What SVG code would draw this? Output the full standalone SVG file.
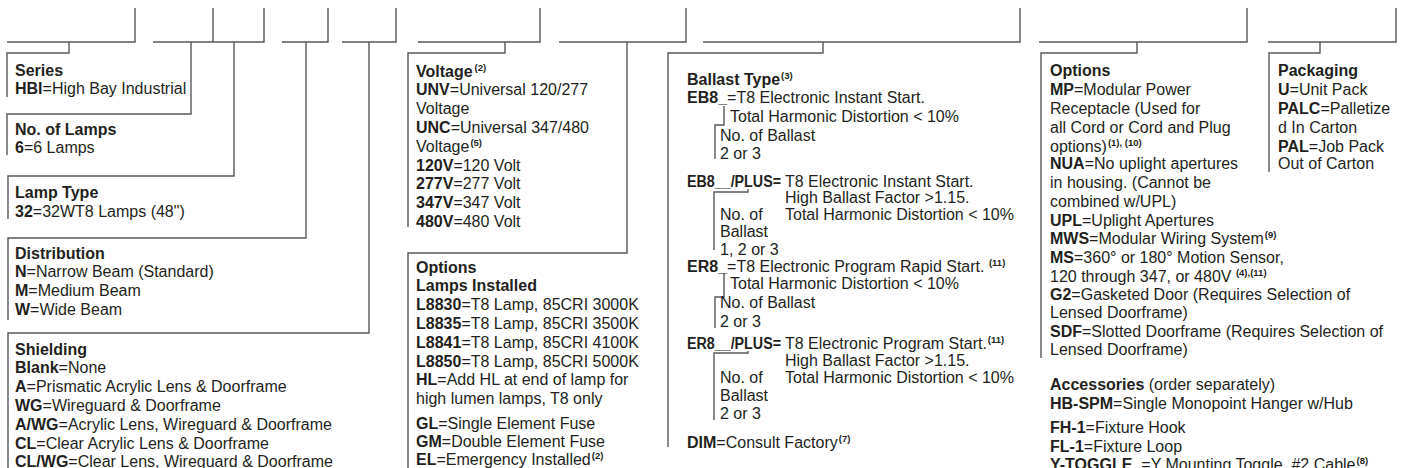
<svg xmlns="http://www.w3.org/2000/svg" width="1403" height="468" viewBox="0 0 1403 468">
<style>
.ln{fill:none;stroke:#58595b;stroke-width:1.4}
text{font-family:"Liberation Sans",Arial,Helvetica,sans-serif;font-size:16px;fill:#231f20}
.b{font-weight:bold}
.s{font-size:9.5px;font-weight:bold}
</style>
<rect width="1403" height="468" fill="#ffffff"/>
<g id="connectors" class="ln">
<path d="M7 42H135V8"/>
<path d="M153 42H264V8M213 42V8"/>
<path d="M282 42H328V8"/>
<path d="M342 42H396V8"/>
<path d="M418 42H540V8"/>
<path d="M559 42H686V8"/>
<path d="M703 42H1020V8"/>
<path d="M1039 42H1247V8"/>
<path d="M1268 42H1396V8"/>
<path d="M69 42V53H7V97"/>
<path d="M191 42V114H7V155"/>
<path d="M234 42V176H8V219"/>
<path d="M306 42V238H8V320"/>
<path d="M369 42V333H8V468"/>
<path d="M505 42V53H408V227"/>
<path d="M627 42V253H408V468"/>
<path d="M823 42V53H668V447"/>
<path d="M1137 42V53H1041V358"/>
<path d="M1320 42V53H1269V172"/>
<path d="M724 106V125H715V159"/>
<path d="M748 189V192H714V250"/>
<path d="M724 273V297H715V328"/>
<path d="M748 351V353H714V420"/>
</g>
<g id="series">
<text x="15" y="75.5" class="b">Series</text>
<text x="15" y="93.5"><tspan class="b">HBI</tspan>=High Bay Industrial</text>
</g>
<g id="lamps">
<text x="15" y="134.5" class="b">No. of Lamps</text>
<text x="15" y="153"><tspan class="b">6</tspan>=6 Lamps</text>
</g>
<g id="lamptype">
<text x="15" y="197.5" class="b">Lamp Type</text>
<text x="15" y="216.5"><tspan class="b">32</tspan>=32WT8 Lamps (48")</text>
</g>
<g id="distribution">
<text x="15" y="258.5" class="b">Distribution</text>
<text x="15" y="277.3"><tspan class="b">N</tspan>=Narrow Beam (Standard)</text>
<text x="15" y="296"><tspan class="b">M</tspan>=Medium Beam</text>
<text x="15" y="314.5"><tspan class="b">W</tspan>=Wide Beam</text>
</g>
<g id="shielding">
<text x="15" y="354.5" class="b">Shielding</text>
<text x="15" y="373.3"><tspan class="b">Blank</tspan>=None</text>
<text x="15" y="392"><tspan class="b">A</tspan>=Prismatic Acrylic Lens &amp; Doorframe</text>
<text x="15" y="411"><tspan class="b">WG</tspan>=Wireguard &amp; Doorframe</text>
<text x="15" y="429.8"><tspan class="b">A/WG</tspan>=Acrylic Lens, Wireguard &amp; Doorframe</text>
<text x="15" y="448.5"><tspan class="b">CL</tspan>=Clear Acrylic Lens &amp; Doorframe</text>
<text x="15" y="466.5"><tspan class="b">CL/WG</tspan>=Clear Lens, Wireguard &amp; Doorframe</text>
</g>
<g id="voltage">
<text x="416" y="76.5"><tspan class="b">Voltage</tspan><tspan class="s" dx="2" dy="-6">(2)</tspan></text>
<text x="416" y="95.3"><tspan class="b">UNV</tspan>=Universal 120/277</text>
<text x="416" y="114.1">Voltage</text>
<text x="416" y="132.9"><tspan class="b">UNC</tspan>=Universal 347/480</text>
<text x="416" y="151.7">Voltage<tspan class="s" dx="1" dy="-6">(5)</tspan></text>
<text x="416" y="170.5"><tspan class="b">120V</tspan>=120 Volt</text>
<text x="416" y="189.3"><tspan class="b">277V</tspan>=277 Volt</text>
<text x="416" y="208.1"><tspan class="b">347V</tspan>=347 Volt</text>
<text x="416" y="226.9"><tspan class="b">480V</tspan>=480 Volt</text>
</g>
<g id="options-lamps">
<text x="416" y="272.5" class="b">Options</text>
<text x="416" y="291.3" class="b">Lamps Installed</text>
<text x="416" y="310.1"><tspan class="b">L8830</tspan>=T8 Lamp, 85CRI 3000K</text>
<text x="416" y="328.9"><tspan class="b">L8835</tspan>=T8 Lamp, 85CRI 3500K</text>
<text x="416" y="347.7"><tspan class="b">L8841</tspan>=T8 Lamp, 85CRI 4100K</text>
<text x="416" y="366.5"><tspan class="b">L8850</tspan>=T8 Lamp, 85CRI 5000K</text>
<text x="416" y="385.3"><tspan class="b">HL</tspan>=Add HL at end of lamp for</text>
<text x="416" y="404.1">high lumen lamps, T8 only</text>
<text x="416" y="428.5"><tspan class="b">GL</tspan>=Single Element Fuse</text>
<text x="416" y="446.5"><tspan class="b">GM</tspan>=Double Element Fuse</text>
<text x="416" y="464.5"><tspan class="b">EL</tspan>=Emergency Installed<tspan class="s" dx="1" dy="-6">(2)</tspan></text>
</g>
<g id="ballast">
<text x="687" y="85"><tspan class="b">Ballast Type</tspan><tspan class="s" dx="1" dy="-6">(3)</tspan></text>
<text x="687" y="103"><tspan class="b">EB8_</tspan>=T8 Electronic Instant Start.</text>
<text x="730" y="122">Total Harmonic Distortion &lt; 10%</text>
<text x="720" y="140.5">No. of Ballast</text>
<text x="720" y="158.5">2 or 3</text>
<text x="687" y="186.5" class="b" textLength="94" lengthAdjust="spacingAndGlyphs">EB8__/PLUS=</text>
<text x="785" y="186.5">T8 Electronic Instant Start.</text>
<text x="785" y="202.5">High Ballast Factor &gt;1.15.</text>
<text x="785" y="219.5">Total Harmonic Distortion &lt; 10%</text>
<text x="720" y="219.5">No. of</text>
<text x="720" y="237">Ballast</text>
<text x="720" y="254.5">1, 2 or 3</text>
<text x="687" y="271.5"><tspan class="b">ER8_</tspan>=T8 Electronic Program Rapid Start. <tspan class="s" dy="-6">(11)</tspan></text>
<text x="730" y="289">Total Harmonic Distortion &lt; 10%</text>
<text x="720" y="308">No. of Ballast</text>
<text x="720" y="327">2 or 3</text>
<text x="687" y="349" class="b" textLength="94" lengthAdjust="spacingAndGlyphs">ER8__/PLUS=</text>
<text x="785" y="349">T8 Electronic Program Start.<tspan class="s" dx="1" dy="-6">(11)</tspan></text>
<text x="785" y="365.5">High Ballast Factor &gt;1.15.</text>
<text x="785" y="382.5">Total Harmonic Distortion &lt; 10%</text>
<text x="720" y="382.5">No. of</text>
<text x="720" y="400.5">Ballast</text>
<text x="720" y="418.5">2 or 3</text>
<text x="687" y="448"><tspan class="b">DIM</tspan>=Consult Factory<tspan class="s" dx="1" dy="-6">(7)</tspan></text>
</g>
<g id="options">
<text x="1050" y="75.5" class="b">Options</text>
<text x="1050" y="94.5"><tspan class="b">MP</tspan>=Modular Power</text>
<text x="1050" y="113.5">Receptacle  (Used for</text>
<text x="1050" y="132.5">all Cord or Cord and Plug</text>
<text x="1050" y="151.5">options)<tspan class="s" dx="1" dy="-6">(1), (10)</tspan></text>
<text x="1050" y="168.5"><tspan class="b">NUA</tspan>=No uplight apertures</text>
<text x="1050" y="187.5">in housing. (Cannot be</text>
<text x="1050" y="206.5">combined w/UPL)</text>
<text x="1050" y="225.5"><tspan class="b">UPL</tspan>=Uplight Apertures</text>
<text x="1050" y="243.5"><tspan class="b">MWS</tspan>=Modular Wiring System<tspan class="s" dx="1" dy="-6">(9)</tspan></text>
<text x="1050" y="262.5"><tspan class="b">MS</tspan>=360° or 180° Motion Sensor,</text>
<text x="1050" y="281.5">120 through 347, or 480V <tspan class="s" dy="-6">(4),(11)</tspan></text>
<text x="1050" y="299.5"><tspan class="b">G2</tspan>=Gasketed Door (Requires Selection of</text>
<text x="1050" y="317.5">Lensed Doorframe)</text>
<text x="1050" y="336.5"><tspan class="b">SDF</tspan>=Slotted Doorframe (Requires Selection of</text>
<text x="1050" y="354.5">Lensed Doorframe)</text>
</g>
<g id="accessories">
<text x="1050" y="389.5"><tspan class="b">Accessories</tspan> (order separately)</text>
<text x="1050" y="408.5"><tspan class="b">HB-SPM</tspan>=Single Monopoint Hanger w/Hub</text>
<text x="1050" y="432.5"><tspan class="b">FH-1</tspan>=Fixture Hook</text>
<text x="1050" y="451.5"><tspan class="b">FL-1</tspan>=Fixture Loop</text>
<text x="1050" y="470"><tspan class="b">Y-TOGGLE_</tspan>=Y Mounting Toggle, #2 Cable<tspan class="s" dx="1" dy="-6">(8)</tspan></text>
</g>
<g id="packaging">
<text x="1278" y="75.5" class="b">Packaging</text>
<text x="1278" y="94.5"><tspan class="b">U</tspan>=Unit Pack</text>
<text x="1278" y="113.5"><tspan class="b">PALC</tspan>=Palletize</text>
<text x="1278" y="132.5">d In Carton</text>
<text x="1278" y="151.5"><tspan class="b">PAL</tspan>=Job Pack</text>
<text x="1278" y="168.5">Out of Carton</text>
</g>
</svg>
